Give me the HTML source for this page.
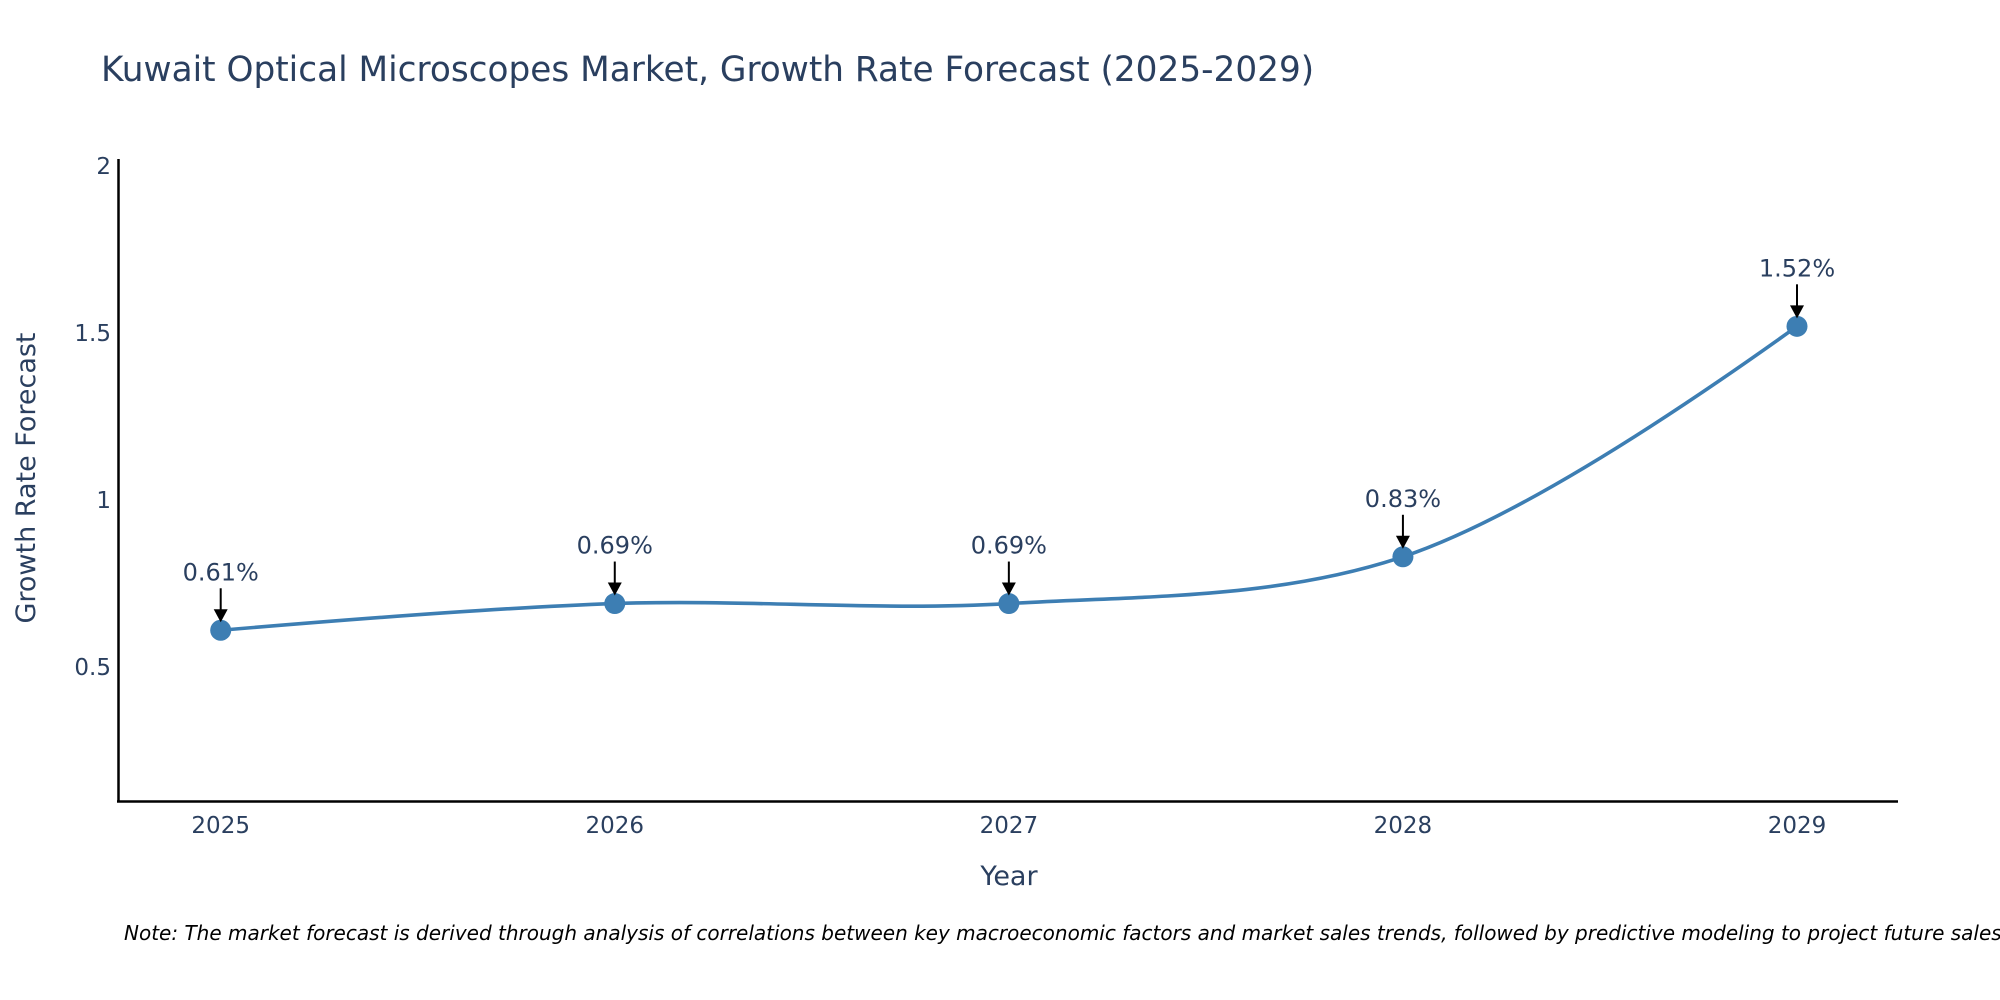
<!DOCTYPE html>
<html><head><meta charset="utf-8"><style>
html,body{margin:0;padding:0;background:#fff;}
svg{display:block;font-family:"DejaVu Sans","Liberation Sans",sans-serif;}
</style></head><body>
<svg id="chart" width="2000" height="1000" viewBox="0 0 2000 1000">
<text x="101" y="81" font-size="34.3" fill="#2a3f5f">Kuwait Optical Microscopes Market, Growth Rate Forecast (2025-2029)</text>
<g id="yticks"></g>
<g id="xticks"></g>
<line x1="118.5" y1="159" x2="118.5" y2="802" stroke="#000" stroke-width="2.5"/>
<line x1="117" y1="801.5" x2="1898" y2="801.5" stroke="#000" stroke-width="2.5"/>
<g id="series"></g>
<g id="annots"></g>
<text x="1009" y="885" font-size="27" fill="#2a3f5f" text-anchor="middle">Year</text>
<text transform="translate(35,478) rotate(-90)" font-size="27" fill="#2a3f5f" text-anchor="middle">Growth Rate Forecast</text>
<text x="124" y="940" font-size="20" font-style="italic" fill="#000">Note: The market forecast is derived through analysis of correlations between key macroeconomic factors and market sales trends, followed by predictive modeling to project future sales.</text>
</svg>
<script>
const years = [2025, 2026, 2027, 2028, 2029];
const values = [0.61, 0.69, 0.69, 0.83, 1.52];
const labels = ["0.61%", "0.69%", "0.69%", "0.83%", "1.52%"];
const yTickVals = [0.5, 1, 1.5, 2];
const yTickText = ["0.5", "1", "1.5", "2"];

const NS = "http://www.w3.org/2000/svg";
function X(v){ return 220.7 + (v - 2025) * (1797 - 220.7) / 4; }
function Y(v){ return 834 - v * 334; }
function mk(tag, attrs, parent){ const e = document.createElementNS(NS, tag); for (const k in attrs) e.setAttribute(k, attrs[k]); parent.appendChild(e); return e; }

const yg = document.getElementById('yticks');
yTickVals.forEach((v, i) => {
  const t = mk('text', {x: 111, y: Y(v) + 8, 'font-size': 23, fill: '#2a3f5f', 'text-anchor': 'end'}, yg);
  
  
  t.textContent = yTickText[i];
});
const xg = document.getElementById('xticks');
years.forEach(v => {
  const t = mk('text', {x: X(v), y: 833, 'font-size': 23, fill: '#2a3f5f', 'text-anchor': 'middle'}, xg);
  
  
  t.textContent = v;
});

const pts = years.map((y, i) => [X(y), Y(values[i])]);
function tangent(prev, cur, next, sm){
  const dxa = prev[0]-cur[0], dya = prev[1]-cur[1], dxb = next[0]-cur[0], dyb = next[1]-cur[1];
  const d2a = Math.pow(dxa*dxa+dya*dya, 0.25), d2b = Math.pow(dxb*dxb+dyb*dyb, 0.25);
  const numx = (d2b*d2b*dxa - d2a*d2a*dxb)*sm, numy = (d2b*d2b*dya - d2a*d2a*dyb)*sm;
  const den1 = 3*d2b*(d2a+d2b), den2 = 3*d2a*(d2a+d2b);
  return [[cur[0]+numx/den1, cur[1]+numy/den1], [cur[0]-numx/den2, cur[1]-numy/den2]];
}
const tg = [];
for (let i = 1; i < pts.length - 1; i++) tg.push(tangent(pts[i-1], pts[i], pts[i+1], 1));
const P = p => p[0].toFixed(2) + ',' + p[1].toFixed(2);
let d = `M${P(pts[0])} Q${P(tg[0][0])} ${P(pts[1])}`;
for (let i = 2; i < pts.length - 1; i++) d += ` C${P(tg[i-2][1])} ${P(tg[i-1][0])} ${P(pts[i])}`;
d += ` Q${P(tg[pts.length-3][1])} ${P(pts[pts.length-1])}`;

const sg = document.getElementById('series');
const line = mk('path', {d: d, fill: 'none', stroke: '#3d7eb3', 'stroke-width': 3.6}, sg);


pts.forEach(p => {
  const c = mk('circle', {cx: p[0], cy: p[1], r: 10.5, fill: '#3d7eb3'}, sg);
  
  
});

const ag = document.getElementById('annots');
pts.forEach((p, i) => {
  const ln = mk('line', {x1: p[0], y1: p[1] - 42, x2: p[0], y2: p[1] - 20, stroke: '#000', 'stroke-width': 2}, ag);
  
  
  const hd = mk('polygon', {points: `${p[0]-7},${p[1]-21} ${p[0]+7},${p[1]-21} ${p[0]},${p[1]-8}`, fill: '#000'}, ag);
  
  
  const t = mk('text', {x: p[0], y: p[1] - 50, 'font-size': 24, fill: '#2a3f5f', 'text-anchor': 'middle'}, ag);
  
  
  t.textContent = labels[i];
});
</script>
</body></html>
